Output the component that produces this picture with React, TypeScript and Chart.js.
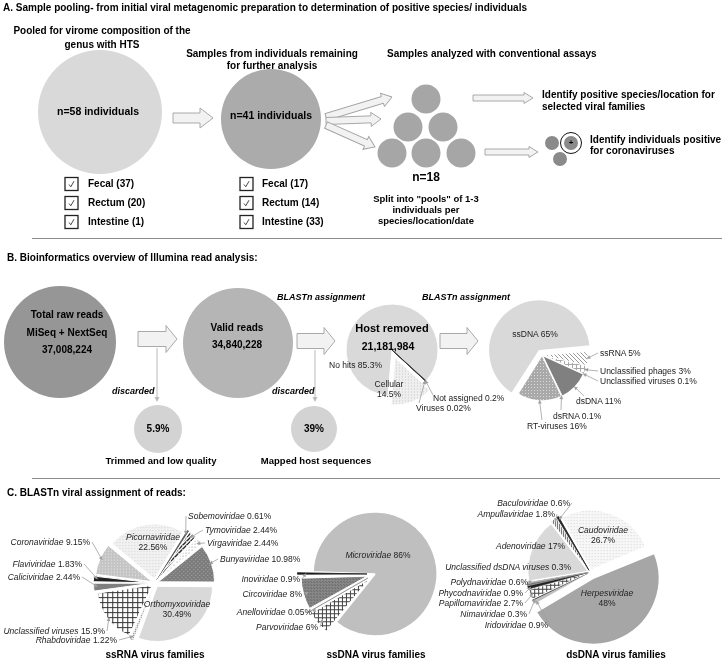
import React, { useEffect, useRef } from "react";
import { Chart, registerables } from "chart.js";

Chart.register(...registerables);

const W = 724;
const H = 662;
const FONT = '"Liberation Sans", Arial, Helvetica, sans-serif';

/* ---------------- data ---------------- */
const tissueLabels = ["Fecal", "Rectum", "Intestine"];
const pooledTissueCounts = [37, 20, 1];
const remainingTissueCounts = [17, 14, 33];
const sampleStageCounts = [58, 41, 18];

const readStageCounts = [37008224, 34840228, 21181984];
const discardLabels = ["Trimmed and low quality", "Mapped host sequences"];
const discardPercents = [5.9, 39];

const hostLabels = ["No hits", "Not assigned", "Viruses", "Cellular"];
const hostValues = [85.3, 0.2, 0.02, 14.5];

const typeLabels = ["ssDNA", "ssRNA", "Unclassified phages", "Unclassified viruses", "dsDNA", "dsRNA", "RT-viruses"];
const typeValues = [65, 5, 3, 0.1, 11, 0.1, 16];

const ssRNALabels = ["Picornaviridae", "Sobemoviridae", "Tymoviridae", "Virgaviridae", "Bunyaviridae", "Orthomyxoviridae", "Rhabdoviridae", "Unclassified viruses", "Caliciviridae", "Flaviviridae", "Coronaviridae"];
const ssRNAValues = [22.56, 0.61, 2.44, 2.44, 10.98, 30.49, 1.22, 15.9, 2.44, 1.83, 9.15];

const ssDNALabels = ["Microviridae", "Parvoviridae", "Anelloviridae", "Circoviridae", "Inoviridae"];
const ssDNAValues = [86, 6, 0.05, 8, 0.9];

const dsDNALabels = ["Ampullaviridae", "Baculoviridae", "Caudoviridae", "Herpesviridae", "Iridoviridae", "Nimaviridae", "Papillomaviridae", "Phycodnaviridae", "Polydnaviridae", "Unclassified dsDNA viruses", "Adenoviridae"];
const dsDNAValues = [1.8, 0.6, 26.7, 48, 0.9, 0.3, 2.7, 0.9, 0.6, 0.3, 17];

/* ---------------- styles ---------------- */
const hostFills = ["#d9d9d9", "#4a4a4a", "#333333", "dots:#efefef:#c9c9c9:3"];
const hostBorders = ["#ffffff", "#4a4a4a", "#333333", "#ffffff"];
const hostBW = [1, 0.8, 0.8, 1];
const hostOffsets = [0, 0, 0, 32];

const typeFills = ["#d9d9d9", "bs:#ffffff:#9a9a9a:4", "grid:#ffffff:#a8a8a8:4", "#bbbbbb", "#808080", "#999999", "dots:#a9a9a9:#dadada:3"];
const typeBorders = ["#ffffff", "#ffffff", "#ffffff", "#bbbbbb", "#ffffff", "#999999", "#ffffff"];
const typeBW = [1.5, 1, 1, 0.6, 1.5, 0.6, 1.5];
const typeOffsets = [20, 0, 0, 0, 0, 0, 0];

const ssRNAFills = ["dots:#f1f1f1:#d4d4d4:3", "#555555", "fs2:#ffffff:#222222:4", "dots:#ffffff:#999999:3", "dots2:#7c7c7c:#aaaaaa:4", "#d9d9d9", "dots:#ffffff:#333333:2", "grid:#ffffff:#333333:5", "#7f7f7f", "#222222", "dots:#c4c4c4:#ececec:3"];
const ssRNABorders = ["#ffffff", "#555555", "#ffffff", "#ffffff", "#ffffff", "#ffffff", "#ffffff", "#ffffff", "#ffffff", "#ffffff", "#ffffff"];
const ssRNABW = [1, 0.8, 1, 1, 1, 1, 0.6, 1, 1, 1, 1];
const ssRNAOffsets = [16, 14, 14, 14, 14, 16, 14, 14, 14, 14, 14];

const ssDNAFills = ["#bfbfbf", "grid:#ffffff:#444444:4", "#888888", "dots2:#8a8a8a:#5e5e5e:3", "#1a1a1a"];
const ssDNABorders = ["#ffffff", "#ffffff", "#888888", "#ffffff", "#1a1a1a"];
const ssDNABW = [1.5, 1, 0.6, 1, 0.8];
const ssDNAOffsets = [0, 32, 32, 32, 32];

const dsDNAFills = ["vert:#ffffff:#666666:2", "#222222", "dots:#f7f7f7:#d6d6d6:3", "#a6a6a6", "#bdbdbd", "#444444", "grid:#ffffff:#444444:4", "#222222", "#777777", "#aaaaaa", "#d9d9d9"];
const dsDNABorders = ["#ffffff", "#222222", "#ffffff", "#ffffff", "#bdbdbd", "#444444", "#ffffff", "#222222", "#777777", "#aaaaaa", "#ffffff"];
const dsDNABW = [1, 0.8, 1.5, 1.5, 0.6, 0.6, 0.8, 0.6, 0.6, 0.6, 1];
const dsDNAOffsets = [8, 8, 8, 28, 8, 8, 8, 8, 8, 8, 8];

/* ---------------- layout ---------------- */
type LP = null | { x: number; y: number; a: "l" | "r" | "c"; two?: boolean; lead?: boolean; from?: [number, number] };

const hostPos: LP[] = [
  { x: 329, y: 365, a: "l" },
  { x: 433, y: 398, a: "l", lead: true, from: [433, 395] },
  { x: 416, y: 408, a: "l", lead: true, from: [419, 403] },
  { x: 389, y: 384, a: "c", two: true },
];
const typePos: LP[] = [
  { x: 535, y: 334, a: "c" },
  { x: 600, y: 353, a: "l", lead: true },
  { x: 600, y: 371, a: "l", lead: true },
  { x: 600, y: 381, a: "l", lead: true },
  { x: 576, y: 401, a: "l", lead: true, from: [584, 396] },
  { x: 553, y: 416, a: "l", lead: true, from: [561, 410] },
  { x: 527, y: 426, a: "l", lead: true, from: [542, 420] },
];
const ssRNAPos: LP[] = [
  { x: 153, y: 537, a: "c", two: true },
  { x: 188, y: 516, a: "l", lead: true },
  { x: 205, y: 530, a: "l", lead: true },
  { x: 207, y: 543, a: "l", lead: true },
  { x: 220, y: 559, a: "l", lead: true },
  { x: 177, y: 604, a: "c", two: true },
  { x: 117, y: 640, a: "r", lead: true },
  { x: 105, y: 631, a: "r", lead: true },
  { x: 80, y: 577, a: "r", lead: true },
  { x: 82, y: 564, a: "r", lead: true },
  { x: 90, y: 542, a: "r", lead: true },
];
const ssDNAPos: LP[] = [
  { x: 378, y: 555, a: "c" },
  { x: 318, y: 627, a: "r", lead: true },
  { x: 312, y: 612, a: "r", lead: true },
  { x: 302, y: 594, a: "r", lead: true },
  { x: 300, y: 579, a: "r", lead: true },
];
const dsDNAPos: LP[] = [
  { x: 555, y: 514, a: "r", lead: true },
  { x: 570, y: 503, a: "r", lead: true },
  { x: 603, y: 530, a: "c", two: true },
  { x: 607, y: 593, a: "c", two: true },
  { x: 548, y: 625, a: "r", lead: true },
  { x: 527, y: 614, a: "r", lead: true },
  { x: 523, y: 603, a: "r", lead: true },
  { x: 523, y: 593, a: "r", lead: true },
  { x: 528, y: 582, a: "r", lead: true },
  { x: 571, y: 567, a: "r" },
  { x: 565, y: 546, a: "r" },
];

function leadsFrom(pos: LP[]): ([number, number] | null)[] {
  return pos.map((p) => {
    if (!p || !p.lead) return null;
    if (p.from) return p.from;
    return p.a === "r" ? [p.x + 2, p.y] : [p.x - 2, p.y];
  });
}

/* ---------------- helpers ---------------- */
function makeFill(ctx: CanvasRenderingContext2D, spec: string): any {
  if (!spec.includes(":")) return spec;
  const [kind, bg, fg, st] = spec.split(":");
  const s = Number(st) || 4;
  const c = document.createElement("canvas");
  c.width = s;
  c.height = s;
  const g = c.getContext("2d")!;
  g.fillStyle = bg;
  g.fillRect(0, 0, s, s);
  g.fillStyle = fg;
  if (kind === "dots") g.fillRect(0, 0, 1, 1);
  else if (kind === "dots2") {
    g.fillRect(0, 0, 1, 1);
    g.fillRect(Math.floor(s / 2), Math.floor(s / 2), 1, 1);
  } else if (kind === "grid") {
    g.fillRect(0, 0, s, 1);
    g.fillRect(0, 0, 1, s);
  } else if (kind === "bs") {
    for (let i = 0; i < s; i++) g.fillRect(i, i, 1, 1);
  } else if (kind === "fs2") {
    for (let i = 0; i < s; i++) g.fillRect(s - 1 - i, i, 2, 1);
    g.fillRect(0, s - 1, 1, 1);
  } else if (kind === "vert") g.fillRect(0, 0, 1, s);
  return ctx.createPattern(c, "repeat") || bg;
}

interface PieProps {
  cx: number;
  cy: number;
  r: number;
  labels: string[];
  values: number[];
  fills: string[];
  borders?: string[];
  borderWidths?: number[];
  offsets?: number[];
  rotation: number;
  leads?: ([number, number] | null)[];
  box?: { x: number; y: number; w: number; h: number };
}

function PieCanvas(p: PieProps) {
  const ref = useRef<HTMLCanvasElement>(null);
  const box = p.box ?? { x: 0, y: 0, w: W, h: H };
  useEffect(() => {
    const canvas = ref.current!;
    const ctx = canvas.getContext("2d")!;
    const lx = p.cx - box.x;
    const ly = p.cy - box.y;
    const half = Math.min(lx, ly, box.w - lx, box.h - ly);
    const n = p.values.length;
    const fills = p.fills.map((f) => makeFill(ctx, f));
    const leads = p.leads;
    const chart = new Chart(canvas, {
      type: "pie",
      data: {
        labels: p.labels,
        datasets: [
          {
            data: p.values,
            backgroundColor: fills,
            borderColor: p.borders ?? Array(n).fill("#ffffff"),
            borderWidth: p.borderWidths ?? Array(n).fill(1),
            offset: p.offsets ?? Array(n).fill(0),
            radius: p.r,
            rotation: p.rotation,
            clip: false,
          } as any,
        ],
      },
      options: {
        responsive: false,
        maintainAspectRatio: false,
        animation: false,
        events: [],
        layout: {
          padding: { left: lx - half, right: box.w - lx - half, top: ly - half, bottom: box.h - ly - half },
        },
        plugins: { legend: { display: false }, tooltip: { enabled: false } },
      } as any,
      plugins: [
        {
          id: "leaders",
          afterDatasetsDraw(ch: any) {
            if (!leads) return;
            const c = ch.ctx;
            const meta = ch.getDatasetMeta(0);
            c.save();
            c.strokeStyle = "#a0a0a0";
            c.fillStyle = "#a0a0a0";
            c.lineWidth = 0.8;
            leads.forEach((from, i) => {
              if (!from) return;
              const arc: any = meta.data[i];
              const pr = arc.getProps(["x", "y", "startAngle", "endAngle", "outerRadius"], true);
              const mid = (pr.startAngle + pr.endAngle) / 2;
              const off = (arc.options.offset || 0) / 4;
              const rr = pr.outerRadius + off - 1;
              const tx = pr.x + Math.cos(mid) * rr;
              const ty = pr.y + Math.sin(mid) * rr;
              const fx = from[0] - box.x;
              const fy = from[1] - box.y;
              c.beginPath();
              c.moveTo(fx, fy);
              c.lineTo(tx, ty);
              c.stroke();
              const ang = Math.atan2(ty - fy, tx - fx);
              c.beginPath();
              c.moveTo(tx, ty);
              c.lineTo(tx - 4 * Math.cos(ang - 0.5), ty - 4 * Math.sin(ang - 0.5));
              c.lineTo(tx - 4 * Math.cos(ang + 0.5), ty - 4 * Math.sin(ang + 0.5));
              c.closePath();
              c.fill();
            });
            c.restore();
          },
        },
      ],
    });
    return () => chart.destroy();
  }, []);
  return (
    <canvas
      ref={ref}
      width={box.w}
      height={box.h}
      style={{ position: "absolute", left: box.x, top: box.y, width: box.w, height: box.h }}
    />
  );
}

function Circle({ cx, cy, r, value, fill }: { cx: number; cy: number; r: number; value: number; fill: string }) {
  const bx = Math.floor(cx - r - 2);
  const by = Math.floor(cy - r - 2);
  const s = Math.ceil(2 * r + 6);
  return (
    <PieCanvas
      cx={cx}
      cy={cy}
      r={r}
      labels={[""]}
      values={[value]}
      fills={[fill]}
      borderWidths={[0]}
      rotation={0}
      box={{ x: bx, y: by, w: s, h: s }}
    />
  );
}

function T({ x, y, s = 10, b = false, i = false, a = "l", c = "#000", children }: any) {
  const tx = a === "c" ? "-50%" : a === "r" ? "-100%" : "0";
  return (
    <div
      style={{
        position: "absolute",
        left: x,
        top: y,
        transform: `translate(${tx},-50%)`,
        fontSize: s,
        fontWeight: b ? "bold" : "normal",
        fontStyle: i ? "italic" : "normal",
        color: c,
        whiteSpace: "nowrap",
        lineHeight: 1,
        fontFamily: FONT,
      }}
    >
      {children}
    </div>
  );
}

function PieLabels({ labels, values, pos, italic }: { labels: string[]; values: number[]; pos: LP[]; italic: boolean }) {
  return (
    <>
      {pos.map((p, i) => {
        if (!p) return null;
        if (p.two) {
          return (
            <React.Fragment key={i}>
              <T x={p.x} y={p.y} a={p.a} s={8.5} i={italic} c="#222">
                {labels[i]}
              </T>
              <T x={p.x} y={p.y + 10} a={p.a} s={8.5} c="#222">
                {String(values[i])}%
              </T>
            </React.Fragment>
          );
        }
        return (
          <T key={i} x={p.x} y={p.y} a={p.a} s={8.5} c="#222">
            <span style={{ fontStyle: italic ? "italic" : "normal" }}>{labels[i]}</span> {String(values[i])}%
          </T>
        );
      })}
    </>
  );
}

function blockArrow(x1: number, y: number, x2: number, shaft: number, head: number, hl: number) {
  const hx = x2 - hl;
  return `${x1},${y - shaft / 2} ${hx},${y - shaft / 2} ${hx},${y - head / 2} ${x2},${y} ${hx},${y + head / 2} ${hx},${y + shaft / 2} ${x1},${y + shaft / 2}`;
}

function AngledArrow({ x1, y1, x2, y2, shaft, head, hl }: any) {
  const L = Math.hypot(x2 - x1, y2 - y1);
  const ang = (Math.atan2(y2 - y1, x2 - x1) * 180) / Math.PI;
  return (
    <polygon
      points={blockArrow(0, 0, L, shaft, head, hl)}
      transform={`translate(${x1},${y1}) rotate(${ang})`}
      fill="#f2f2f2"
      stroke="#a0a0a0"
      strokeWidth={0.9}
    />
  );
}

function DownArrow({ x, y1, y2 }: { x: number; y1: number; y2: number }) {
  return (
    <g>
      <line x1={x} y1={y1} x2={x} y2={y2 - 4} stroke="#bbbbbb" strokeWidth={1} />
      <polygon points={`${x - 2.5},${y2 - 5} ${x + 2.5},${y2 - 5} ${x},${y2}`} fill="#bbbbbb" />
    </g>
  );
}

function CheckBox({ x, y }: { x: number; y: number }) {
  return (
    <g>
      <rect x={x} y={y - 6.5} width={13} height={13} fill="#fff" stroke="#222" strokeWidth={1.3} />
      <polyline
        points={`${x + 4},${y + 0.5} ${x + 5.8},${y + 2.8} ${x + 9},${y - 2.8}`}
        fill="none"
        stroke="#333"
        strokeWidth={0.9}
      />
    </g>
  );
}

const poolCircleCenters: [number, number][] = [
  [426, 99],
  [408, 127],
  [443, 127],
  [392, 153],
  [426, 153],
  [461, 153],
];
const coronaCircleCenters: [number, number][] = [
  [552, 143],
  [560, 159],
  [571, 143],
];
const checkRows = [184, 203, 222];

export default function App() {
  const fmt = (n: number) => n.toLocaleString("en-US");
  return (
    <div
      style={{
        position: "absolute",
        left: 0,
        top: 0,
        width: W,
        height: H,
        background: "#fff",
        overflow: "hidden",
        fontFamily: FONT,
      }}
    >
      {/* Section A circles */}
      <Circle cx={100} cy={112} r={62} value={sampleStageCounts[0]} fill="#d9d9d9" />
      <Circle cx={271} cy={119} r={50} value={sampleStageCounts[1]} fill="#ababab" />
      {poolCircleCenters.map(([x, y], i) => (
        <Circle key={"p" + i} cx={x} cy={y} r={14.5} value={1} fill="#a6a6a6" />
      ))}
      {coronaCircleCenters.map(([x, y], i) => (
        <Circle key={"c" + i} cx={x} cy={y} r={7} value={1} fill="#8a8a8a" />
      ))}

      {/* Section B circles */}
      <Circle cx={60} cy={342} r={56} value={readStageCounts[0]} fill="#969696" />
      <Circle cx={238} cy={343} r={55} value={readStageCounts[1]} fill="#b5b5b5" />
      <Circle cx={158} cy={429} r={24} value={discardPercents[0]} fill="#d3d3d3" />
      <Circle cx={314} cy={429} r={23} value={discardPercents[1]} fill="#d3d3d3" />

      {/* Pies */}
      <PieCanvas
        cx={392}
        cy={350}
        r={46}
        labels={hostLabels}
        values={hostValues}
        fills={hostFills}
        borders={hostBorders}
        borderWidths={hostBW}
        offsets={hostOffsets}
        rotation={185}
        leads={leadsFrom(hostPos)}
      />
      <PieCanvas
        cx={542}
        cy={355}
        r={46}
        labels={typeLabels}
        values={typeValues}
        fills={typeFills}
        borders={typeBorders}
        borderWidths={typeBW}
        offsets={typeOffsets}
        rotation={212}
        leads={leadsFrom(typePos)}
      />
      <PieCanvas
        cx={155}
        cy={583}
        r={55}
        labels={ssRNALabels}
        values={ssRNAValues}
        fills={ssRNAFills}
        borders={ssRNABorders}
        borderWidths={ssRNABW}
        offsets={ssRNAOffsets}
        rotation={-50}
        leads={leadsFrom(ssRNAPos)}
      />
      <PieCanvas
        cx={375}
        cy={574}
        r={62}
        labels={ssDNALabels}
        values={ssDNAValues}
        fills={ssDNAFills}
        borders={ssDNABorders}
        borderWidths={ssDNABW}
        offsets={ssDNAOffsets}
        rotation={-88}
        leads={leadsFrom(ssDNAPos)}
      />
      <PieCanvas
        cx={590}
        cy={572}
        r={60}
        labels={dsDNALabels}
        values={dsDNAValues}
        fills={dsDNAFills}
        borders={dsDNABorders}
        borderWidths={dsDNABW}
        offsets={dsDNAOffsets}
        rotation={-38}
        leads={leadsFrom(dsDNAPos)}
      />

      {/* Vector decorations */}
      <svg width={W} height={H} style={{ position: "absolute", left: 0, top: 0 }}>
        <line x1={32} y1={238.5} x2={722} y2={238.5} stroke="#8c8c8c" strokeWidth={1.2} />
        <line x1={32} y1={478.5} x2={720} y2={478.5} stroke="#8c8c8c" strokeWidth={1.2} />

        <polygon points={blockArrow(173, 118, 213, 10, 20, 13)} fill="#f2f2f2" stroke="#a0a0a0" strokeWidth={0.9} />
        <AngledArrow x1={326} y1={117} x2={392} y2={97} shaft={7} head={14} hl={10} />
        <AngledArrow x1={326} y1={121} x2={381} y2={119} shaft={7} head={14} hl={10} />
        <AngledArrow x1={326} y1={125} x2={375} y2={147} shaft={7} head={14} hl={10} />
        <polygon points={blockArrow(473, 98, 533, 6, 11, 9)} fill="#f2f2f2" stroke="#a0a0a0" strokeWidth={0.9} />
        <polygon points={blockArrow(485, 152, 538, 6, 11, 9)} fill="#f2f2f2" stroke="#a0a0a0" strokeWidth={0.9} />

        {checkRows.map((y, i) => (
          <CheckBox key={"a" + i} x={65} y={y} />
        ))}
        {checkRows.map((y, i) => (
          <CheckBox key={"b" + i} x={240} y={y} />
        ))}
        <circle cx={571} cy={143} r={10.5} fill="none" stroke="#111" strokeWidth={1} />

        <polygon points={blockArrow(138, 339, 177, 15, 27, 11)} fill="#f2f2f2" stroke="#a0a0a0" strokeWidth={0.9} />
        <polygon points={blockArrow(297, 341, 335, 15, 27, 11)} fill="#f2f2f2" stroke="#a0a0a0" strokeWidth={0.9} />
        <polygon points={blockArrow(440, 341, 478, 15, 27, 11)} fill="#f2f2f2" stroke="#a0a0a0" strokeWidth={0.9} />
        <DownArrow x={157} y1={348} y2={402} />
        <DownArrow x={315} y1={350} y2={402} />
      </svg>

      {/* Section A text */}
      <T x={3} y={8} b>
        A. Sample pooling- from initial viral metagenomic preparation to determination of positive species/ individuals
      </T>
      <T x={102} y={31} a="c" b>
        Pooled for virome composition of the
      </T>
      <T x={102} y={45} a="c" b>
        genus with HTS
      </T>
      <T x={272} y={54} a="c" b>
        Samples from individuals remaining
      </T>
      <T x={272} y={66} a="c" b>
        for further analysis
      </T>
      <T x={387} y={54} b>
        Samples analyzed with conventional assays
      </T>
      <T x={98} y={111} a="c" b s={10.5}>
        n={sampleStageCounts[0]} individuals
      </T>
      <T x={271} y={115} a="c" b s={10.5}>
        n={sampleStageCounts[1]} individuals
      </T>
      {tissueLabels.map((t, i) => (
        <T key={"ta" + i} x={88} y={checkRows[i]} b>
          {t} ({pooledTissueCounts[i]})
        </T>
      ))}
      {tissueLabels.map((t, i) => (
        <T key={"tb" + i} x={262} y={checkRows[i]} b>
          {t} ({remainingTissueCounts[i]})
        </T>
      ))}
      <T x={426} y={177} a="c" b s={12}>
        n={sampleStageCounts[2]}
      </T>
      <T x={426} y={199} a="c" b s={9.5}>
        Split into "pools" of 1-3
      </T>
      <T x={426} y={210} a="c" b s={9.5}>
        individuals per
      </T>
      <T x={426} y={221} a="c" b s={9.5}>
        species/location/date
      </T>
      <T x={542} y={95} b>
        Identify positive species/location for
      </T>
      <T x={542} y={107} b>
        selected viral families
      </T>
      <T x={590} y={140} b>
        Identify individuals positive
      </T>
      <T x={590} y={151} b>
        for coronaviruses
      </T>
      <T x={571} y={143} a="c" b s={8}>
        +
      </T>

      {/* Section B text */}
      <T x={7} y={258} b>
        B. Bioinformatics overview of Illumina read analysis:
      </T>
      <T x={67} y={315} a="c" b>
        Total raw reads
      </T>
      <T x={67} y={333} a="c" b>
        MiSeq + NextSeq
      </T>
      <T x={67} y={350} a="c" b>
        {fmt(readStageCounts[0])}
      </T>
      <T x={237} y={328} a="c" b>
        Valid reads
      </T>
      <T x={237} y={345} a="c" b>
        {fmt(readStageCounts[1])}
      </T>
      <T x={392} y={328} a="c" b s={11}>
        Host removed
      </T>
      <T x={388} y={346} a="c" b s={10.5}>
        {fmt(readStageCounts[2])}
      </T>
      <T x={277} y={297} b i s={9}>
        BLASTn assignment
      </T>
      <T x={422} y={297} b i s={9}>
        BLASTn assignment
      </T>
      <T x={112} y={391} b i s={9}>
        discarded
      </T>
      <T x={272} y={391} b i s={9}>
        discarded
      </T>
      <T x={158} y={429} a="c" b>
        {discardPercents[0]}%
      </T>
      <T x={314} y={429} a="c" b>
        {discardPercents[1]}%
      </T>
      <T x={161} y={461} a="c" b s={9.5}>
        {discardLabels[0]}
      </T>
      <T x={316} y={461} a="c" b s={9.5}>
        {discardLabels[1]}
      </T>
      <PieLabels labels={hostLabels} values={hostValues} pos={hostPos} italic={false} />
      <PieLabels labels={typeLabels} values={typeValues} pos={typePos} italic={false} />

      {/* Section C text */}
      <T x={7} y={493} b>
        C. BLASTn viral assignment of reads:
      </T>
      <PieLabels labels={ssRNALabels} values={ssRNAValues} pos={ssRNAPos} italic={true} />
      <PieLabels labels={ssDNALabels} values={ssDNAValues} pos={ssDNAPos} italic={true} />
      <PieLabels labels={dsDNALabels} values={dsDNAValues} pos={dsDNAPos} italic={true} />
      <T x={155} y={655} a="c" b>
        ssRNA virus families
      </T>
      <T x={376} y={655} a="c" b>
        ssDNA virus families
      </T>
      <T x={616} y={655} a="c" b>
        dsDNA virus families
      </T>
    </div>
  );
}
